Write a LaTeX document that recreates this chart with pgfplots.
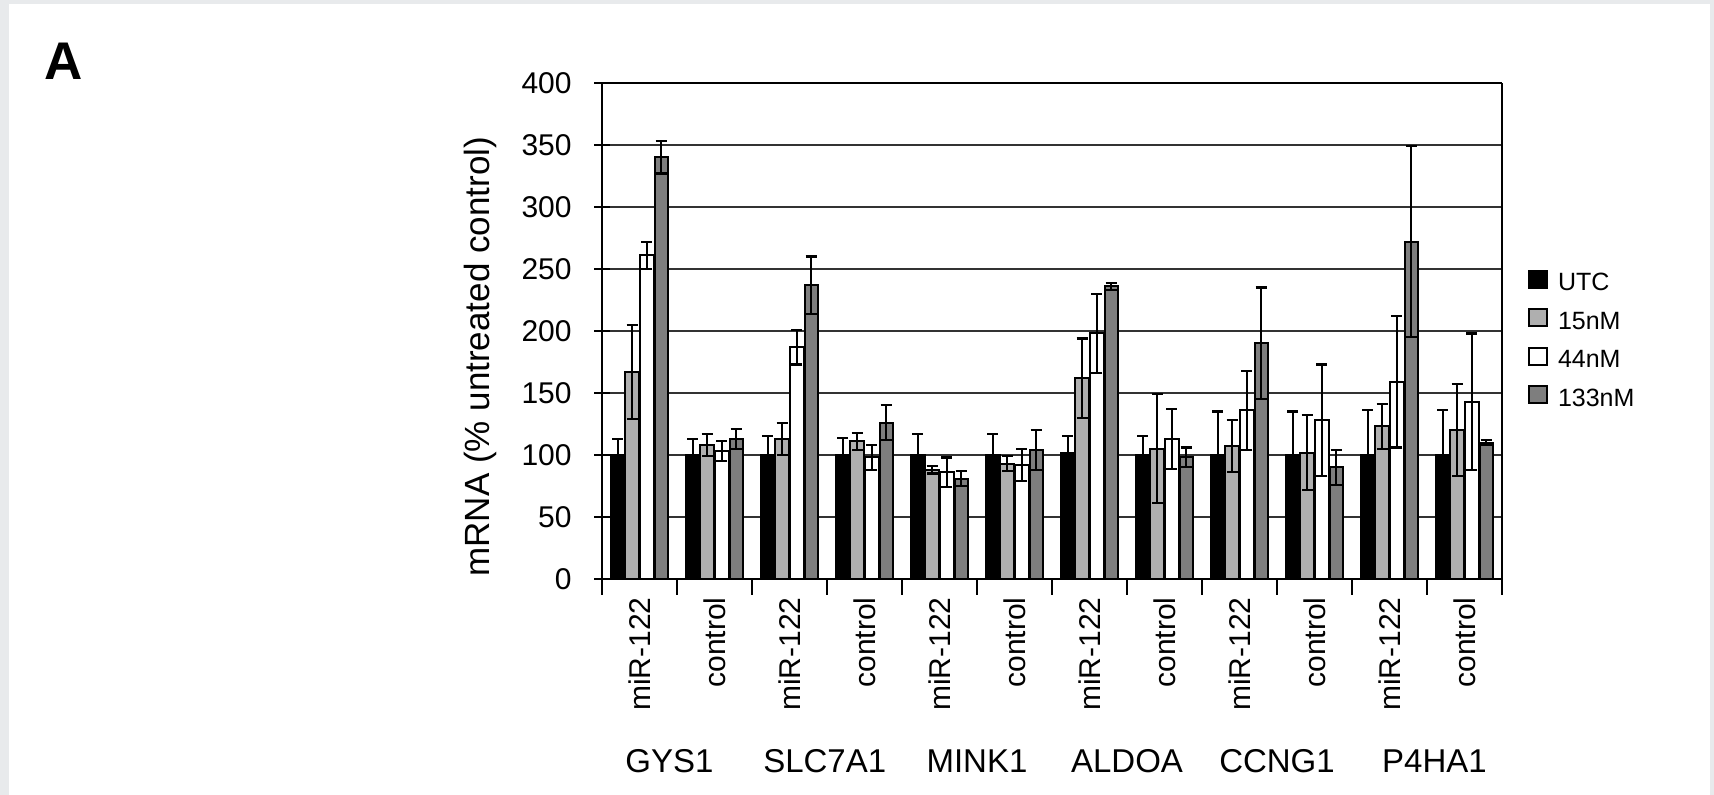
\documentclass[border=0pt]{standalone}
\usepackage{pgfplots}
\usepackage{pgfplotstable}
\pgfplotsset{compat=1.18}
\usepackage{fontspec}
\setmainfont{Liberation Sans}
\definecolor{bgframe}{HTML}{E8EAEC}
\definecolor{cfifteen}{HTML}{AFAFAF}
\definecolor{conethree}{HTML}{7E7E7E}

\pgfplotstableread{
x   utc eutc c15 e15 c44 e44 c133 e133
0   100 13   167 38  261 11  340  13
1   100 13   108 9   103 8   113  8
2   100 15   113 13  187 14  237  23
3   100 14   111 7   98  10  126  14
4   100 17   88  3   86  12  81   6
5   100 17   93  6   92  13  104  16
6   102 13   162 32  198 32  236  3
7   100 15   105 44  113 24  98   8
8   100 35   107 21  136 32  190  45
9   100 35   102 30  128 45  90   14
10  100 36   123 18  159 53  272  77
11  100 36   120 37  143 55  110  2
}\datatable

\pgfplotsset{
  sqleg/.style={legend image code/.code={\draw[##1] (0pt,-3.5pt) rectangle (9pt,5pt);}},
  errs/.style={error bars/.cd, y dir=both, y explicit,
     error bar style={black, line width=1.1pt},
     error mark options={rotate=90, black, line width=1.1pt, mark size=2.8pt}},
}

\begin{document}
\begin{tikzpicture}
\useasboundingbox (0,0) rectangle (857pt,-397.5pt);
\fill[bgframe] (0,0) rectangle (857pt,-397.5pt);
\fill[white] (4.5pt,-2pt) rectangle (855pt,-397.5pt);
\node[anchor=base, font=\fontsize{26.5}{30}\selectfont\bfseries] at (32pt,-40pt) {A};
\begin{axis}[
  at={(301pt,-289.5pt)}, anchor=south west,
  scale only axis, width=450pt, height=248pt,
  xmin=-0.5, xmax=11.5, ymin=0, ymax=400,
  enlargelimits=false, clip=false,
  separate axis lines,
  x axis line style={black, line width=1pt},
  y axis line style={black, line width=1.4pt},
  tick pos=left,
  major tick length=8pt,
  xtick align=outside, ytick align=center,
  tick style={black, line width=1pt},
  ytick={0,50,...,400},
  xtick={-0.5,0.5,...,11.5},
  xticklabels={},
  extra x ticks={0,1,...,11},
  extra x tick labels={miR-122,control,miR-122,control,miR-122,control,miR-122,control,miR-122,control,miR-122,control},
  extra x tick style={major tick length=0pt, tick style={draw=none}},
  xticklabel style={rotate=90, anchor=east, inner sep=0pt},
  xticklabel shift=9pt,
  yticklabel style={anchor=east, inner sep=0pt},
  yticklabel shift=11pt,
  tick label style={font=\fontsize{15}{18}\selectfont, text=black},
  /pgf/number format/assume math mode=true,
  ymajorgrids,
  grid style={black!80, line width=1pt},
  ylabel={mRNA (\% untreated control)},
  every axis y label/.style={at={(axis description cs:-0.1356,0.448)}, rotate=90, anchor=center, font=\fontsize{17.5}{21}\selectfont},
  legend style={at={(axis description cs:1.0289,0.623)}, anchor=north west,
     draw=none, fill=none, inner sep=0pt, outer sep=0pt,
     row sep=8.7pt, column sep=5pt,
     font=\fontsize{12.5}{15}\selectfont,
     nodes={inner sep=0pt, text height=10pt, text depth=0pt}},
  legend cell align=left,
]
\addplot[ybar, bar width=0.18, bar shift=0pt, fill=black, draw=black, line width=1pt, sqleg, errs]
  table[x expr=\thisrow{x}-0.29, y=utc, y error=eutc] {\datatable};
\addlegendentry{UTC}
\addplot[ybar, bar width=0.18, bar shift=0pt, fill=cfifteen, draw=black, line width=1pt, sqleg, errs]
  table[x expr=\thisrow{x}-0.097, y=c15, y error=e15] {\datatable};
\addlegendentry{15nM}
\addplot[ybar, bar width=0.18, bar shift=0pt, fill=white, draw=black, line width=1pt, sqleg, errs]
  table[x expr=\thisrow{x}+0.097, y=c44, y error=e44] {\datatable};
\addlegendentry{44nM}
\addplot[ybar, bar width=0.18, bar shift=0pt, fill=conethree, draw=black, line width=1pt, sqleg, errs]
  table[x expr=\thisrow{x}+0.29, y=c133, y error=e133] {\datatable};
\addlegendentry{133nM}

\node[anchor=base, yshift=-96.5pt, font=\fontsize{16.5}{20}\selectfont] at (axis cs:0.4,0) {GYS1};
\node[anchor=base, yshift=-96.5pt, font=\fontsize{16.5}{20}\selectfont] at (axis cs:2.47,0) {SLC7A1};
\node[anchor=base, yshift=-96.5pt, font=\fontsize{16.5}{20}\selectfont] at (axis cs:4.5,0) {MINK1};
\node[anchor=base, yshift=-96.5pt, font=\fontsize{16.5}{20}\selectfont] at (axis cs:6.5,0) {ALDOA};
\node[anchor=base, yshift=-96.5pt, font=\fontsize{16.5}{20}\selectfont] at (axis cs:8.5,0) {CCNG1};
\node[anchor=base, yshift=-96.5pt, font=\fontsize{16.5}{20}\selectfont] at (axis cs:10.6,0) {P4HA1};
\end{axis}
\end{tikzpicture}
\end{document}
